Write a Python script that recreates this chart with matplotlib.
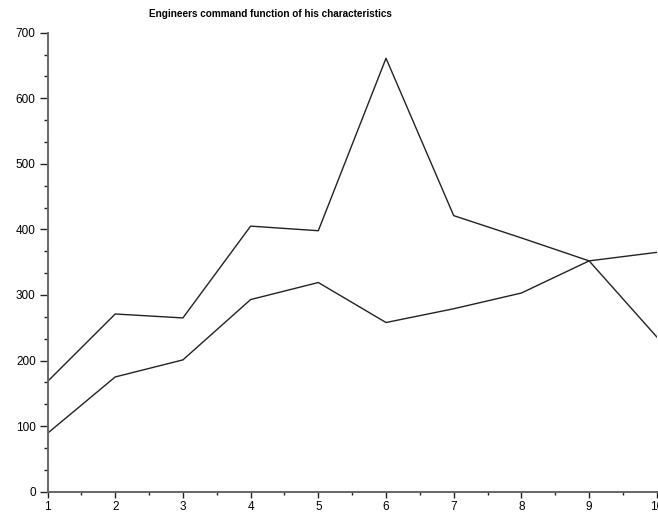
import numpy as np
import matplotlib
matplotlib.use('Agg')
import matplotlib.pyplot as plt
from matplotlib.ticker import MultipleLocator, AutoMinorLocator

plt.rcParams['font.family'] = ['Liberation Sans', 'DejaVu Sans']

# values
x = [1, 2, 3, 4, 5, 6, 7, 8, 9, 10]
series_a = [168, 271, 265, 405, 398, 661, 421, 387, 352, 236]
series_b = [89, 175, 201, 293, 319, 258, 279, 303, 352, 365]
title = 'Engineers command function of his characteristics'

fig = plt.figure(figsize=(6.58, 5.14), dpi=100)
ax = fig.add_axes([0.0722, 0.0434, 0.926, 0.893])

ax.plot(x, series_a, color='#222222', linewidth=1.0)
ax.plot(x, series_b, color='#222222', linewidth=1.0)

ax.set_xlim(1, 10)
ax.set_ylim(0, 700)
ax.xaxis.set_major_locator(MultipleLocator(1))
ax.yaxis.set_major_locator(MultipleLocator(100))
ax.xaxis.set_minor_locator(AutoMinorLocator(2))
ax.yaxis.set_minor_locator(AutoMinorLocator(3))

for side in ['top', 'right']:
    ax.spines[side].set_visible(False)
for side in ['left', 'bottom']:
    ax.spines[side].set_color('#666666')
    ax.spines[side].set_linewidth(1.4)

ax.tick_params(axis='y', which='major', direction='out', length=5.5, width=1.0,
               color='#222222', labelsize=8.5, pad=3)
ax.tick_params(axis='y', which='minor', direction='out', length=3, width=1.0,
               color='#222222')
ax.tick_params(axis='x', which='major', direction='out', length=4, width=1.0,
               color='#222222', labelsize=8.5, pad=3)
ax.tick_params(axis='x', which='minor', direction='out', length=2, width=1.0,
               color='#222222')

fig.text(270 / 658, 1 - 14 / 514, title, ha='center', va='center',
         fontsize=7.2, fontweight='bold')

fig.savefig('out.png', dpi=100)
